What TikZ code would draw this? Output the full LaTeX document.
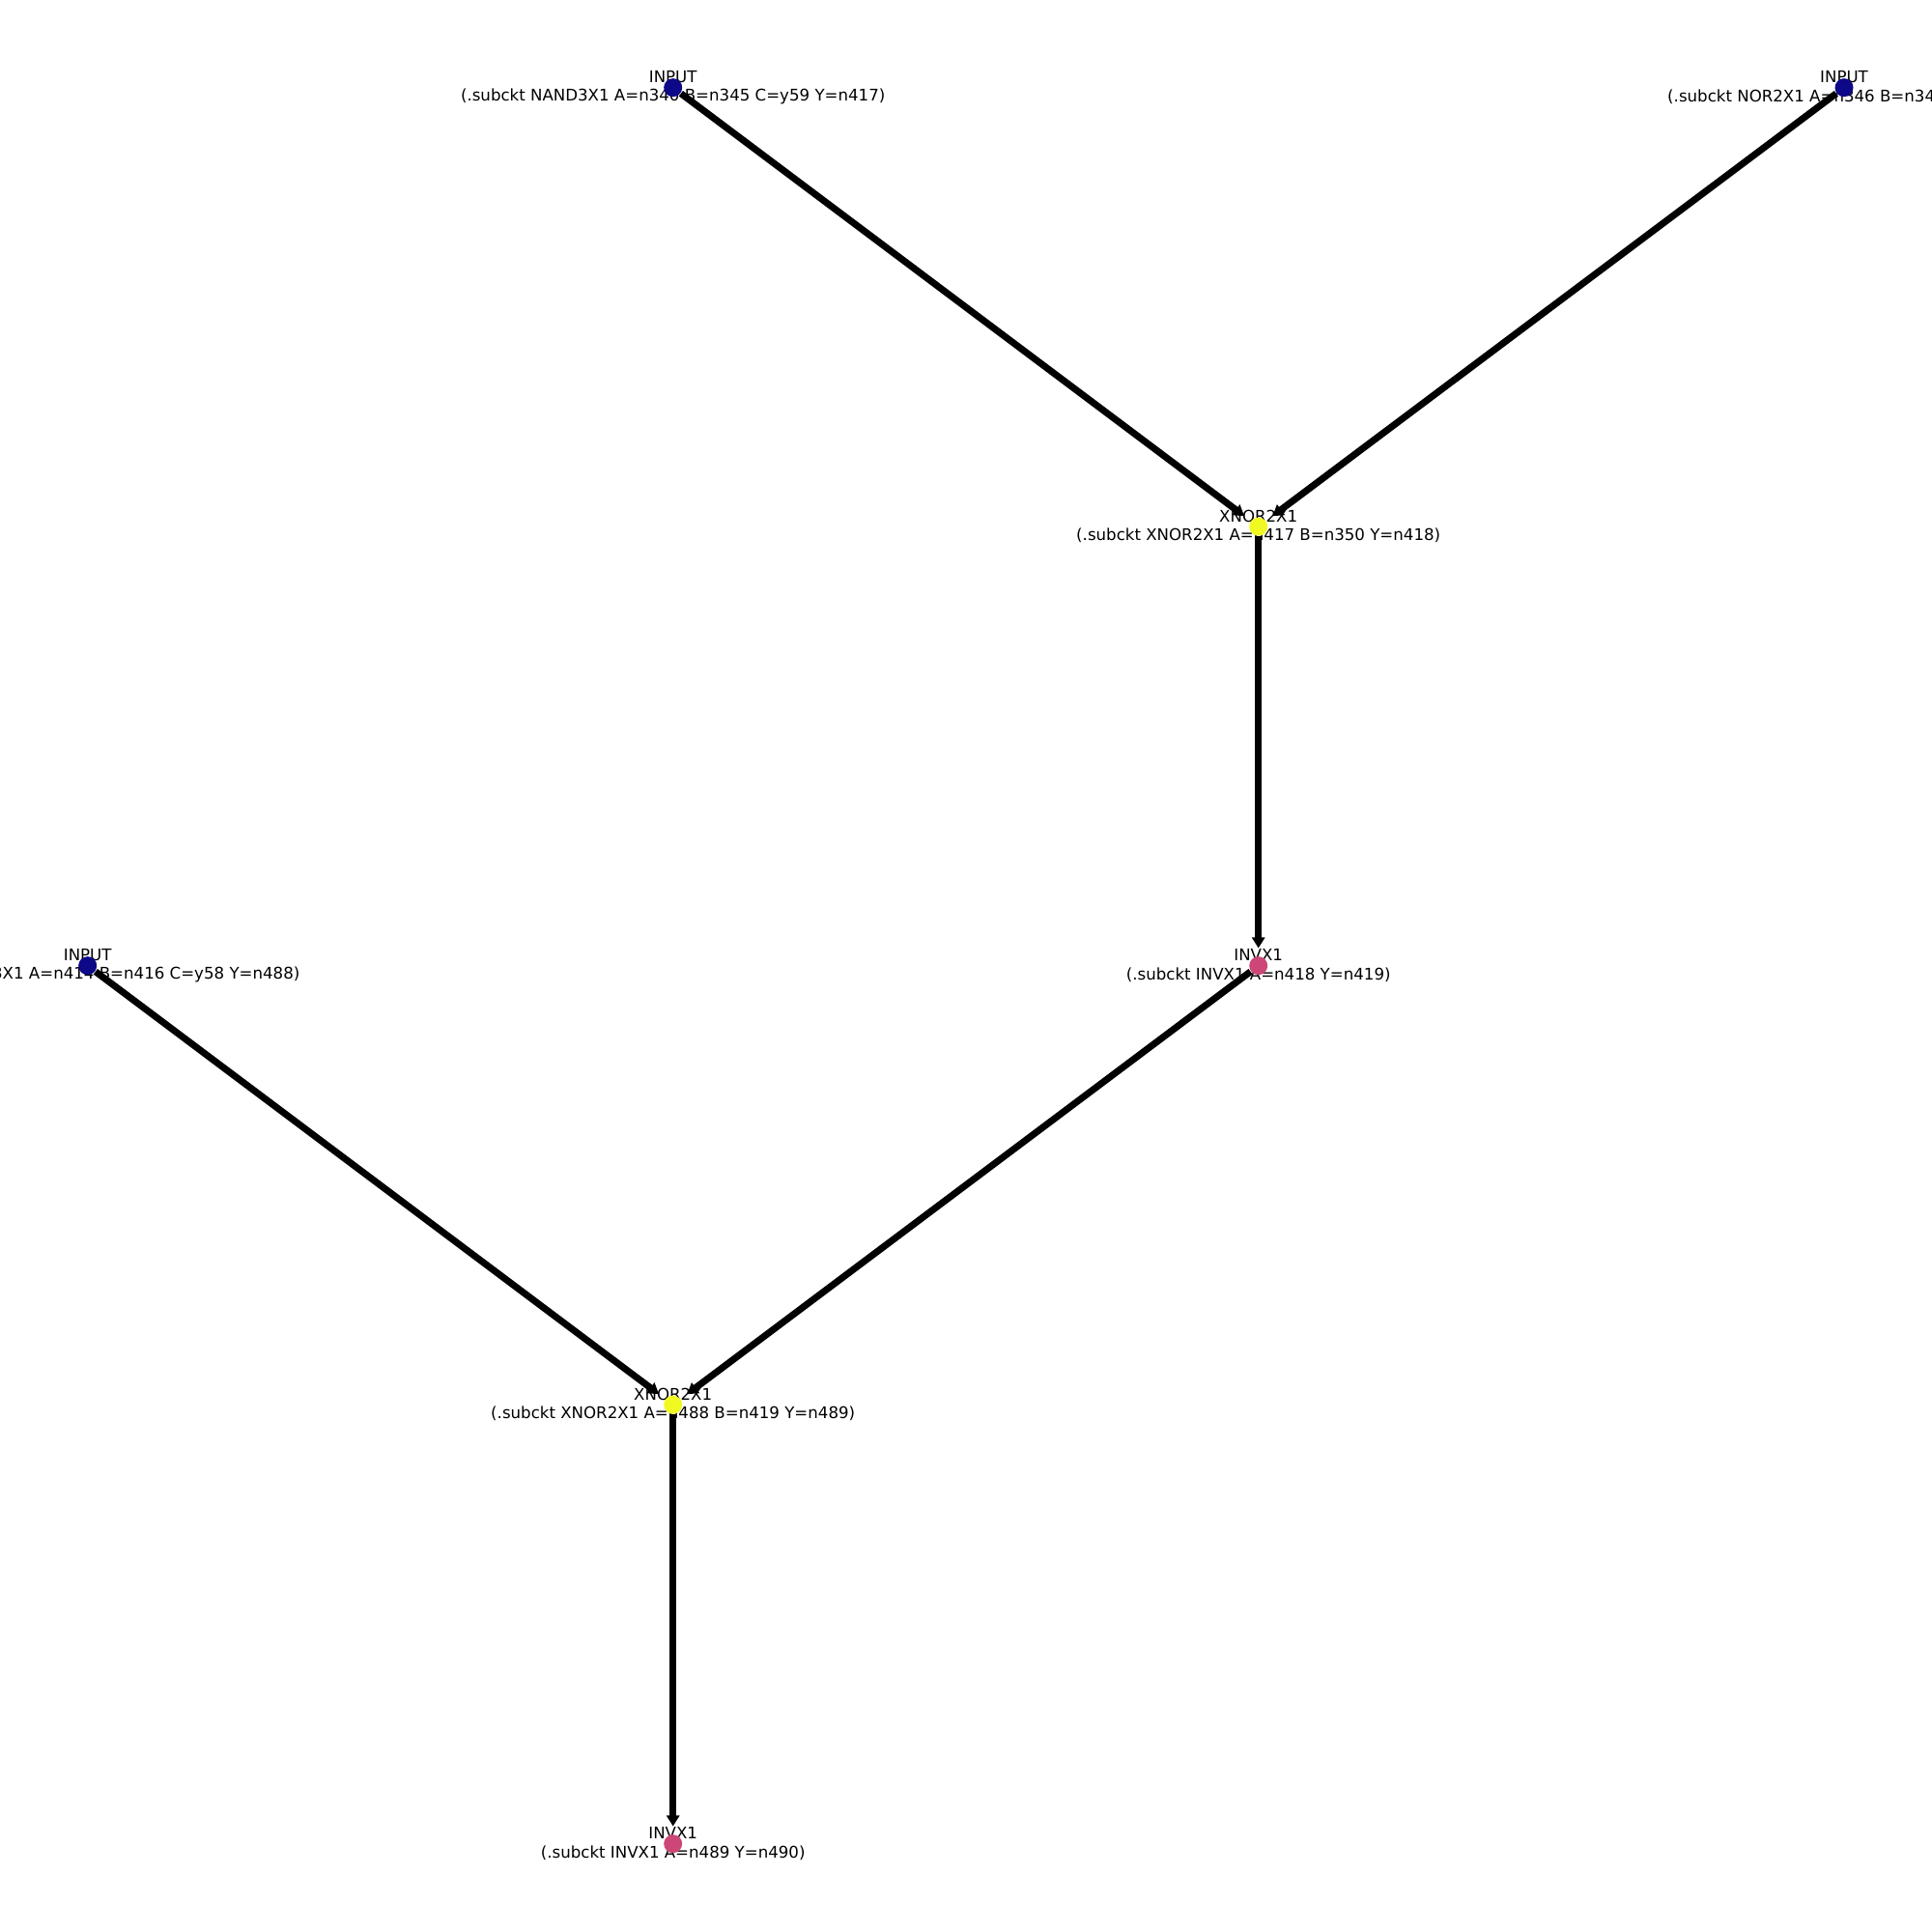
\documentclass[tikz,border=0pt]{standalone}
\usepackage{fontspec}
\setmainfont{DejaVu Sans}
\usetikzlibrary{arrows.meta}
\definecolor{inputcol}{HTML}{0D0887}
\definecolor{xnorcol}{HTML}{F0F921}
\definecolor{invcol}{HTML}{CC4778}
\tikzset{
  gate/.style={circle, inner sep=0pt, minimum size=0.19cm, draw=none},
  inputgate/.style={gate, fill=inputcol},
  xnorgate/.style={gate, fill=xnorcol},
  invgate/.style={gate, fill=invcol},
  gatelabel/.style={align=center, inner sep=0pt, font=\fontsize{4.73}{5.5}\selectfont},
  wire/.style={line width=2pt, black, shorten >=0.08cm,
    -{Triangle[length=0.11cm, width=0.13cm]}},
}
\begin{document}
\begin{tikzpicture}
\useasboundingbox (0,0) rectangle (20,20);
\fill[white] (0,0) rectangle (20,20);

% grid of gate positions
\def\xa{0.907}\def\xb{6.967}\def\xc{13.027}\def\xd{19.09}
\def\ya{19.093}\def\yb{14.548}\def\yc{10.003}\def\yd{5.458}\def\ye{0.913}

% labels
\node[gatelabel] (l1) at (\xb,\ya) {INPUT\\(.subckt NAND3X1 A=n340 B=n345 C=y59 Y=n417)};
\node[gatelabel] (l2) at (\xd,\ya) {INPUT\\(.subckt NOR2X1 A=n346 B=n347 Y=n350)};
\node[gatelabel] (l3) at (\xc,\yb) {XNOR2X1\\(.subckt XNOR2X1 A=n417 B=n350 Y=n418)};
\node[gatelabel] (l4) at (\xc,\yc) {INVX1\\(.subckt INVX1 A=n418 Y=n419)};
\node[gatelabel] (l5) at (\xa,\yc) {INPUT\\(.subckt NAND3X1 A=n414 B=n416 C=y58 Y=n488)};
\node[gatelabel] (l6) at (\xb,\yd) {XNOR2X1\\(.subckt XNOR2X1 A=n488 B=n419 Y=n489)};
\node[gatelabel] (l7) at (\xb,\ye) {INVX1\\(.subckt INVX1 A=n489 Y=n490)};

% gates
\node[inputgate] (in1) at (\xb,\ya) {};
\node[inputgate] (in2) at (\xd,\ya) {};
\node[xnorgate] (x1) at (\xc,\yb) {};
\node[invgate] (inv1) at (\xc,\yc) {};
\node[inputgate] (in3) at (\xa,\yc) {};
\node[xnorgate] (x2) at (\xb,\yd) {};
\node[invgate] (inv2) at (\xb,\ye) {};

% wires
\draw[wire] (in1) -- (x1);
\draw[wire] (in2) -- (x1);
\draw[wire] (x1) -- (inv1);
\draw[wire] (inv1) -- (x2);
\draw[wire] (in3) -- (x2);
\draw[wire] (x2) -- (inv2);
\end{tikzpicture}
\end{document}
